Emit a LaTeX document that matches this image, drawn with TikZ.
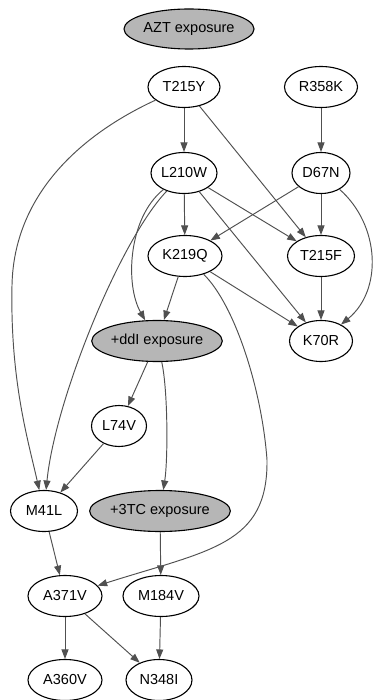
\documentclass[tikz,border=0pt]{standalone}
\usepackage{fontspec}
\setmainfont{Liberation Sans}
\usetikzlibrary{shapes.geometric,arrows.meta}
\definecolor{nodegray}{RGB}{182,182,182}
\definecolor{edgegray}{RGB}{80,80,80}
\begin{document}
\begin{tikzpicture}[x=1pt,y=-1pt,
  mut/.style={ellipse,draw=black,line width=1.1pt,inner sep=0pt,minimum height=41pt,font=\fontsize{14.5}{17}\selectfont},
  expo/.style={mut,fill=nodegray},
  edge/.style={draw=edgegray,line width=0.95pt,-{Triangle[length=9.5pt,width=7pt]}}]
\fill[white] (0,0) rectangle (373,700);
\useasboundingbox (0,0) rectangle (373,700);
\node[expo,minimum width=130pt,minimum height=40pt] (azt) at (189,29) {AZT exposure};
\node[mut,minimum width=72pt] (t215y) at (184,87) {T215Y};
\node[mut,minimum width=73pt] (r358k) at (321,87) {R358K};
\node[mut,minimum width=66pt] (l210w) at (184,173) {L210W};
\node[mut,minimum width=58pt] (d67n) at (321,173) {D67N};
\node[mut,minimum width=74pt] (k219q) at (185,256) {K219Q};
\node[mut,minimum width=67pt] (t215f) at (321,256) {T215F};
\node[expo,minimum width=120pt] (ddi) at (157,341) {+ddI exposure};
\node[mut,minimum width=63pt] (k70r) at (321,341) {K70R};
\node[mut,minimum width=55pt] (l74v) at (119,426) {L74V};
\node[mut,minimum width=67pt] (m41l) at (44,511) {M41L};
\node[expo,minimum width=126pt] (tc) at (160,511) {+3TC exposure};
\node[mut,minimum width=74pt] (a371v) at (65,596) {A371V};
\node[mut,minimum width=76pt] (m184v) at (161,596) {M184V};
\node[mut,minimum width=74pt] (a360v) at (65,680) {A360V};
\node[mut,minimum width=66pt] (n348i) at (159,680) {N348I};
% straight edges
\draw[edge] (t215y) -- (l210w);
\draw[edge] (t215y) -- (t215f);
\draw[edge] (r358k) -- (d67n);
\draw[edge] (l210w) -- (k219q);
\draw[edge] (l210w) -- (t215f);
\draw[edge] (l210w) -- (k70r);
\draw[edge] (d67n) -- (k219q);
\draw[edge] (d67n) -- (t215f);
\draw[edge] (k219q) -- (ddi);
\draw[edge] (k219q) -- (k70r);
\draw[edge] (t215f) -- (k70r);
\draw[edge] (ddi) -- (l74v);
\draw[edge] (l74v) -- (m41l);
\draw[edge] (m41l) -- (a371v);
\draw[edge] (tc) -- (m184v);
\draw[edge] (a371v) -- (a360v);
\draw[edge] (a371v) -- (n348i);
\draw[edge] (m184v) -- (n348i);
% curved edges
\coordinate (c1) at (12,285);
\draw[edge] (t215y) .. controls (80,135) and (14,195) .. (c1) .. controls (10,380) and (28,440) .. (m41l);
\draw[edge] (l210w) .. controls (120,240) and (55,400) .. (m41l);
\draw[edge] (l210w) .. controls (128,218) and (125,285) .. (ddi);
\coordinate (c2) at (267,460);
\draw[edge] (k219q) .. controls (235,305) and (262,390) .. (c2) .. controls (268,545) and (210,550) .. (a371v);
\draw[edge] (ddi) .. controls (168,390) and (168,460) .. (tc);
\draw[edge] (d67n) .. controls (380,225) and (383,290) .. (k70r);
\end{tikzpicture}
\end{document}
